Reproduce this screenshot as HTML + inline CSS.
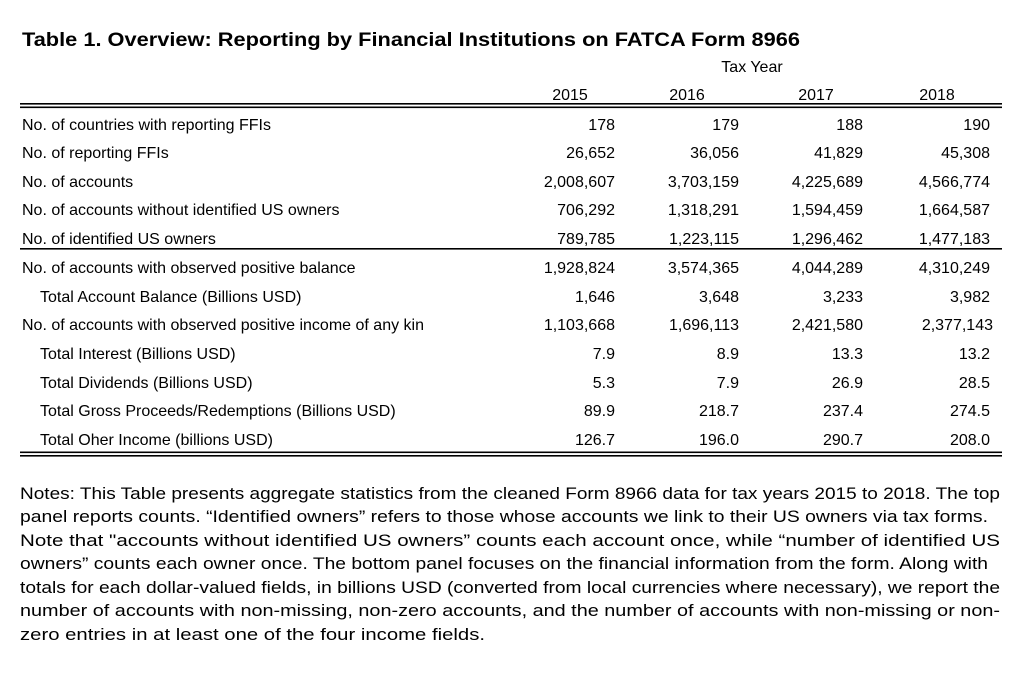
<!DOCTYPE html>
<html><head><meta charset="utf-8"><style>
html,body{margin:0;padding:0;background:#fff;}
svg{display:block}
text{font-family:"Liberation Sans",Arial,sans-serif;fill:#000}
.t{font-size:16px}
.r{text-anchor:end}
.m{text-anchor:middle}
</style></head><body>
<svg width="1023" height="673" viewBox="0 0 1023 673" xmlns="http://www.w3.org/2000/svg">
<text x="22" y="46" font-size="19" font-weight="bold" textLength="778" lengthAdjust="spacingAndGlyphs">Table 1. Overview: Reporting by Financial Institutions on FATCA Form 8966</text>
<text class="t m" x="752" y="72">Tax Year</text>
<text class="t m" x="570" y="100">2015</text>
<text class="t m" x="687" y="100">2016</text>
<text class="t m" x="816" y="100">2017</text>
<text class="t m" x="937" y="100">2018</text>
<rect x="20" y="103" width="982" height="1.6"/>
<rect x="20" y="106.5" width="982" height="1.6"/>
<g class="t">
<text class="t" x="22" y="130">No. of countries with reporting FFIs</text>
<text class="t" x="22" y="158">No. of reporting FFIs</text>
<text class="t" x="22" y="187">No. of accounts</text>
<text class="t" x="22" y="215">No. of accounts without identified US owners</text>
<text class="t" x="22" y="244">No. of identified US owners</text>
<text class="t" x="22" y="273">No. of accounts with observed positive balance</text>
<text class="t" x="40" y="302">Total Account Balance (Billions USD)</text>
<text class="t" x="22" y="330">No. of accounts with observed positive income of any kin</text>
<text class="t" x="40" y="359">Total Interest (Billions USD)</text>
<text class="t" x="40" y="388">Total Dividends (Billions USD)</text>
<text class="t" x="40" y="416">Total Gross Proceeds/Redemptions (Billions USD)</text>
<text class="t" x="40" y="445">Total Oher Income (billions USD)</text>
</g>
<g>
<text class="t r" x="615" y="130">178</text><text class="t r" x="739" y="130">179</text><text class="t r" x="863" y="130">188</text><text class="t r" x="990" y="130">190</text>
<text class="t r" x="615" y="158">26,652</text><text class="t r" x="739" y="158">36,056</text><text class="t r" x="863" y="158">41,829</text><text class="t r" x="990" y="158">45,308</text>
<text class="t r" x="615" y="187">2,008,607</text><text class="t r" x="739" y="187">3,703,159</text><text class="t r" x="863" y="187">4,225,689</text><text class="t r" x="990" y="187">4,566,774</text>
<text class="t r" x="615" y="215">706,292</text><text class="t r" x="739" y="215">1,318,291</text><text class="t r" x="863" y="215">1,594,459</text><text class="t r" x="990" y="215">1,664,587</text>
<text class="t r" x="615" y="244">789,785</text><text class="t r" x="739" y="244">1,223,115</text><text class="t r" x="863" y="244">1,296,462</text><text class="t r" x="990" y="244">1,477,183</text>
<text class="t r" x="615" y="273">1,928,824</text><text class="t r" x="739" y="273">3,574,365</text><text class="t r" x="863" y="273">4,044,289</text><text class="t r" x="990" y="273">4,310,249</text>
<text class="t r" x="615" y="302">1,646</text><text class="t r" x="739" y="302">3,648</text><text class="t r" x="863" y="302">3,233</text><text class="t r" x="990" y="302">3,982</text>
<text class="t r" x="615" y="330">1,103,668</text><text class="t r" x="739" y="330">1,696,113</text><text class="t r" x="863" y="330">2,421,580</text><text class="t r" x="993" y="330">2,377,143</text>
<text class="t r" x="615" y="359">7.9</text><text class="t r" x="739" y="359">8.9</text><text class="t r" x="863" y="359">13.3</text><text class="t r" x="990" y="359">13.2</text>
<text class="t r" x="615" y="388">5.3</text><text class="t r" x="739" y="388">7.9</text><text class="t r" x="863" y="388">26.9</text><text class="t r" x="990" y="388">28.5</text>
<text class="t r" x="615" y="416">89.9</text><text class="t r" x="739" y="416">218.7</text><text class="t r" x="863" y="416">237.4</text><text class="t r" x="990" y="416">274.5</text>
<text class="t r" x="615" y="445">126.7</text><text class="t r" x="739" y="445">196.0</text><text class="t r" x="863" y="445">290.7</text><text class="t r" x="990" y="445">208.0</text>
</g>
<rect x="20" y="248" width="982" height="1.6"/>
<rect x="20" y="451.5" width="982" height="1.6"/>
<rect x="20" y="455" width="982" height="1.6"/>
<g font-size="16.5">
<text x="20" y="499" textLength="980" lengthAdjust="spacingAndGlyphs">Notes: This Table presents aggregate statistics from the cleaned Form 8966 data for tax years 2015 to 2018. The top</text>
<text x="20" y="522" textLength="968" lengthAdjust="spacingAndGlyphs">panel reports counts. “Identified owners” refers to those whose accounts we link to their US owners via tax forms.</text>
<text x="20" y="546" textLength="980" lengthAdjust="spacingAndGlyphs">Note that "accounts without identified US owners” counts each account once, while “number of identified US</text>
<text x="20" y="569" textLength="968" lengthAdjust="spacingAndGlyphs">owners” counts each owner once. The bottom panel focuses on the financial information from the form. Along with</text>
<text x="20" y="593" textLength="980" lengthAdjust="spacingAndGlyphs">totals for each dollar-valued fields, in billions USD (converted from local currencies where necessary), we report the</text>
<text x="20" y="616" textLength="980" lengthAdjust="spacingAndGlyphs">number of accounts with non-missing, non-zero accounts, and the number of accounts with non-missing or non-</text>
<text x="20" y="640" textLength="465" lengthAdjust="spacingAndGlyphs">zero entries in at least one of the four income fields.</text>
</g>
</svg>
</body></html>
